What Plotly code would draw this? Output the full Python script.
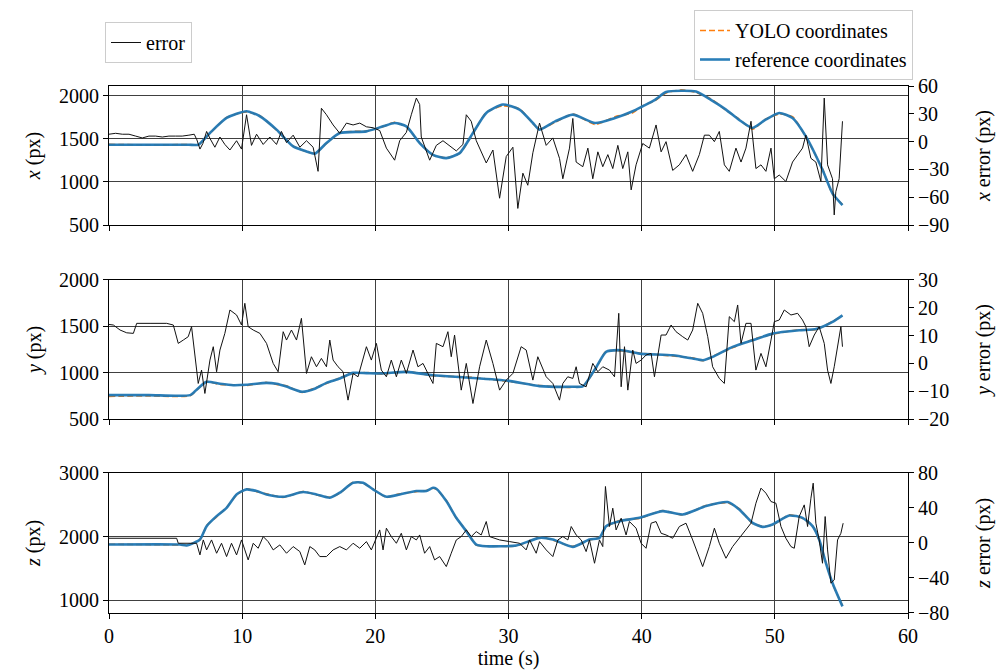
import plotly.graph_objects as go
from plotly.subplots import make_subplots

# ---------------- data ----------------
# reference / YOLO coordinates
rx_t = [0, 3.0, 6.0, 6.7, 7.58, 8.83, 10.33, 11.33, 12.58, 13.83,
        14.83, 15.45, 16.33, 17.33, 19.33, 20.58, 21.45, 22.33, 23.33, 24.33,
        25.33, 26.33, 27.33, 28.33, 29.58, 30.83, 31.83, 32.33, 33.5, 34.83,
        36.5, 38.0, 39.33, 40.08, 41.0, 41.83, 43.0, 44.08, 45.2, 46.33,
        47.3, 48.33, 49.3, 50.33, 51.33, 52.33, 53.58, 54.33, 55.08]
ref_x = [1430, 1430, 1430, 1430, 1566, 1740, 1818, 1760, 1605, 1411,
         1353, 1326, 1450, 1566, 1585, 1643, 1682, 1643, 1450, 1314,
         1275, 1333, 1566, 1798, 1895, 1837, 1682, 1605, 1700, 1779,
         1682, 1740, 1818, 1876, 1950, 2040, 2055, 2045, 1950, 1837,
         1720, 1624, 1720, 1798, 1740, 1527, 1140, 868, 732]
yolo_x = [1435, 1428, 1432, 1430, 1560, 1745, 1810, 1765, 1600, 1415,
          1350, 1330, 1445, 1570, 1590, 1640, 1690, 1635, 1455, 1310,
          1280, 1330, 1560, 1805, 1880, 1845, 1675, 1610, 1690, 1785,
          1665, 1755, 1800, 1880, 1940, 2030, 2065, 2035, 1960, 1830,
          1730, 1610, 1725, 1785, 1755, 1520, 1150, 860, 740]

ry_t = [0, 3.0, 6.1, 6.6, 7.33, 8.33, 9.33, 10.33, 11.83, 12.58,
        13.33, 14.5, 15.5, 16.33, 17.33, 18.33, 19.33, 20.5, 22.33, 24.33,
        26.83, 30.0, 32.33, 34.83, 35.6, 36.6, 37.33, 38.5, 39.83, 42.33,
        43.83, 44.6, 45.33, 46.83, 48.33, 49.83, 51.83, 53.1, 54.33, 55.08]
ref_y = [758, 758, 758, 820, 901, 880, 865, 870, 890, 880,
         850, 794, 830, 890, 937, 998, 995, 991, 1009, 973,
         948, 912, 855, 848, 855, 1062, 1224, 1242, 1206, 1188,
         1153, 1134, 1170, 1278, 1350, 1421, 1457, 1470, 1547, 1618]
yolo_y = [745, 750, 752, 815, 905, 872, 870, 862, 895, 874,
          858, 788, 838, 884, 945, 990, 1002, 985, 1015, 966,
          955, 905, 862, 842, 860, 1050, 1230, 1235, 1212, 1180,
          1160, 1128, 1176, 1270, 1358, 1414, 1463, 1465, 1553, 1612]

rz_t = [0, 5.33, 5.83, 6.83, 7.33, 8.08, 8.83, 9.58, 10.33, 11.08,
        11.83, 13.08, 14.58, 15.58, 16.58, 17.33, 18.33, 19.08, 19.83, 20.83,
        21.83, 23.08, 23.83, 24.33, 24.58, 25.33, 26.08, 26.83, 27.58, 28.33,
        30.58, 32.33, 33.33, 34.83, 36.08, 36.83, 37.33, 38.33, 39.83, 41.58,
        43.08, 44.83, 46.46, 47.33, 48.33, 49.08, 49.83, 51.08, 52.08, 52.83,
        53.33, 53.83, 54.33, 55.08]
ref_z = [1874, 1874, 1860, 1953, 2163, 2320, 2451, 2661, 2740, 2714,
         2661, 2624, 2698, 2661, 2609, 2688, 2845, 2845, 2740, 2624,
         2661, 2714, 2714, 2766, 2750, 2556, 2294, 2084, 1874, 1848,
         1860, 1979, 1953, 1838, 1953, 1979, 2163, 2241, 2294, 2399,
         2346, 2478, 2541, 2425, 2215, 2152, 2189, 2330, 2294, 2163,
         1953, 1586, 1271, 904]
yolo_z = [1880, 1868, 1865, 1945, 2170, 2310, 2460, 2650, 2748, 2705,
          2670, 2615, 2705, 2652, 2618, 2680, 2855, 2835, 2748, 2615,
          2670, 2705, 2722, 2758, 2742, 2565, 2285, 2095, 1866, 1855,
          1852, 1987, 1945, 1846, 1945, 1988, 2150, 2250, 2285, 2408,
          2338, 2486, 2530, 2436, 2205, 2160, 2180, 2340, 2285, 2172,
          1940, 1600, 1260, 915]

# errors
ex_t = [0, 0.5, 1.0, 1.5, 2.0, 2.5, 3.0, 3.5, 4.0, 4.5,
        5.0, 5.5, 6.0, 6.4, 6.6, 6.83, 7.05, 7.33, 7.6, 7.95,
        8.33, 8.7, 9.08, 9.58, 9.95, 10.33, 10.7, 11.08, 11.58, 12.08,
        12.58, 12.95, 13.33, 13.83, 14.33, 14.83, 15.33, 15.7, 15.95, 16.33,
        16.83, 17.33, 17.83, 18.33, 18.83, 19.33, 19.83, 20.33, 20.83, 21.45,
        21.83, 22.33, 22.7, 23.08, 23.33, 23.45, 24.08, 24.58, 25.08, 25.58,
        26.08, 26.58, 26.83, 27.2, 27.58, 28.33, 28.83, 29.33, 29.83, 30.33,
        30.7, 31.08, 31.45, 31.83, 32.33, 32.83, 33.33, 33.83, 34.08, 34.58,
        34.83, 35.08, 35.58, 35.96, 36.33, 36.71, 37.08, 37.46, 37.83, 38.21,
        38.58, 38.96, 39.21, 39.58, 40.08, 40.58, 41.08, 41.46, 41.83, 42.33,
        42.83, 43.33, 43.83, 44.33, 44.71, 45.08, 45.46, 45.83, 46.21, 46.58,
        47.08, 47.46, 47.83, 48.21, 48.58, 48.96, 49.33, 49.71, 49.96, 50.33,
        50.83, 51.33, 51.71, 52.08, 52.33, 52.71, 53.08, 53.46, 53.71, 53.96,
        54.33, 54.46, 54.58, 54.83, 55.08]
err_x = [8, 9, 8, 8, 6, 4, 6, 6, 5, 6,
         6, 6, 7, 8, 2, -8, -2, 11, 3, -6,
         5, -3, -9, 1, -8, 29, -4, 8, -3, 5,
         -3, 11, -1, 7, -6, 1, -6, -32, 36, 29,
         18, 9, 20, 18, 20, 16, 15, 12, -7, -20,
         1, 10, 29, 47, 40, 5, -20, -4, 1, -5,
         -10, -3, 29, 22, 1, -23, -9, -61, -16, -6,
         -72, -34, -47, -12, 20, -4, 4, -18, -40, -7,
         25, -22, -27, -7, -40, -11, -27, -14, -29, -4,
         -29, -11, -52, -25, -2, -7, 18, -11, 0, -31,
         -25, -14, -32, -14, 7, 7, 0, 11, -25, -32,
         -7, -22, -7, 22, -29, -25, -32, -7, -40, -36,
         -43, -22, -14, -7, 7, -18, -22, -43, 47, -25,
         -40, -79, -54, -40, 22]

ey_t = [0, 0.33, 0.83, 1.33, 1.83, 2.08, 3.08, 4.33, 4.83, 5.2,
        5.58, 5.95, 6.2, 6.45, 6.7, 6.95, 7.2, 7.58, 7.83, 8.08,
        8.33, 8.7, 9.08, 9.58, 9.95, 10.2, 10.45, 10.83, 11.33, 11.83,
        12.33, 12.7, 13.08, 13.33, 13.7, 14.08, 14.45, 14.83, 15.2, 15.58,
        15.95, 16.33, 16.58, 16.83, 17.2, 17.58, 17.95, 18.33, 18.7, 19.33,
        19.7, 20.08, 20.45, 20.83, 21.2, 21.58, 21.95, 22.33, 22.83, 23.2,
        23.58, 23.95, 24.33, 24.58, 25.08, 25.45, 25.7, 25.95, 26.45, 26.83,
        27.33, 27.83, 28.33, 28.83, 29.33, 29.83, 30.33, 30.95, 31.33, 31.83,
        32.2, 32.83, 33.33, 33.83, 34.08, 34.45, 34.83, 35.08, 35.33, 35.83,
        36.33, 36.71, 37.08, 37.58, 37.96, 38.28, 38.46, 38.71, 38.96, 39.33,
        39.58, 39.96, 40.33, 40.71, 40.96, 41.46, 41.83, 42.21, 42.58, 43.08,
        43.46, 43.83, 44.21, 44.58, 44.96, 45.33, 45.83, 46.21, 46.58, 46.96,
        47.21, 47.46, 47.83, 48.21, 48.58, 48.96, 49.33, 49.71, 49.96, 50.33,
        50.71, 51.21, 51.71, 52.08, 52.33, 52.58, 52.96, 53.33, 53.71, 53.96,
        54.21, 54.46, 54.71, 54.96, 55.08]
err_y = [14, 13.8, 12.0, 11.0, 10.8, 14.4, 14.4, 14.4, 13.8, 7.2,
         8.4, 9.6, 13.2, 3.6, -7.2, -2.4, -10.8, 1.2, 6.0, -3.0,
         4.8, 10.8, 19.2, 17.4, 13.8, 21.6, 13.2, 12.0, 10.8, 7.2,
         0, -3.0, 11.4, 8.4, 12.0, 8.4, 16.2, -3.6, 2.4, -1.2,
         1.8, -1.2, 8.4, 1.2, -1.2, -3.0, -13.2, -3.6, -4.8, 6.0,
         1.2, 7.2, -2.4, -4.8, 1.2, -4.8, 1.2, -3.6, 4.8, -1.2,
         0, -3.6, -7.2, 7.2, 6.0, 11.4, 2.4, 10.2, -9.6, 0,
         -14.4, -1.2, 8.4, 0, -9.6, -6.0, -3.6, 6.0, 4.8, -6.0,
         2.4, -4.8, -7.2, -13.2, -7.2, -4.8, -5.4, -1.2, -7.2, -8.4,
         0, -3.0, -1.2, -2.4, -4.8, 18.0, -8.4, 6.0, -9.6, 4.8,
         0, 1.2, 3.0, 3.6, -4.8, 10.2, 10.2, 13.8, 11.4, 9.6,
         8.4, 12.0, 21.6, 18.0, 9.6, -1.2, -5.4, -7.2, 16.8, 15.0,
         21.0, 7.2, 14.4, 14.4, -2.4, 3.6, -1.2, 8.4, 15.0, 15.6,
         19.2, 17.4, 18.0, 15.6, 13.2, 6.0, 10.2, 13.2, 7.2, -2.4,
         -7.2, -1.2, 6.0, 13.2, 6.0]

ez_t = [0, 0.33, 5.08, 5.2, 6.58, 6.83, 7.08, 7.33, 7.7, 8.08,
        8.45, 8.83, 9.2, 9.58, 9.95, 10.2, 10.45, 10.83, 11.2, 11.58,
        11.95, 12.33, 12.83, 13.33, 13.83, 14.33, 14.7, 15.08, 15.45, 15.83,
        16.33, 16.83, 17.33, 17.83, 18.33, 18.83, 19.33, 19.7, 20.08, 20.33,
        20.58, 20.83, 21.2, 21.58, 21.95, 22.33, 22.7, 23.08, 23.33, 23.7,
        24.08, 24.45, 24.83, 25.33, 25.7, 26.08, 26.45, 26.83, 27.2, 27.58,
        27.95, 28.33, 28.58, 29.33, 30.08, 30.83, 31.33, 31.58, 32.08, 32.33,
        32.83, 33.33, 33.71, 34.08, 34.46, 34.71, 35.08, 35.46, 35.83, 36.08,
        36.46, 36.83, 37.08, 37.28, 37.58, 37.83, 38.08, 38.46, 38.83, 39.08,
        39.58, 39.96, 40.33, 40.71, 41.08, 41.46, 41.83, 42.33, 42.83, 43.33,
        43.83, 44.21, 44.58, 45.08, 45.46, 45.83, 46.33, 46.83, 47.33, 47.83,
        48.21, 48.58, 48.96, 49.33, 49.71, 50.08, 50.46, 50.83, 51.21, 51.46,
        51.83, 52.21, 52.46, 52.71, 52.88, 53.08, 53.33, 53.58, 53.78, 53.96,
        54.21, 54.46, 54.71, 54.96, 55.13]
err_z = [5.3, 5.3, 5.3, -0.4, -0.4, -13.7, 3.4, -8.0, 3.4, -11.8,
         -0.4, -15.6, -0.4, -13.7, 3.4, -8.0, -19.4, -0.4, -6.1, 7.2,
         1.5, -8.0, -2.3, -11.8, -4.2, -9.9, -25.1, -4.2, -8.0, -15.6,
         -15.6, -8.0, -4.2, -8.0, -0.4, -6.1, 1.5, -8.0, 7.2, 14.8,
         -8.0, 16.8, 7.2, -0.4, 11.0, -8.0, 7.2, 3.4, 9.1, -11.8,
         -4.2, -19.4, -15.6, -27.0, -11.8, 3.4, 7.2, 14.8, 7.2, 12.9,
         9.1, 24.4, 7.2, 3.4, 1.5, -0.4, -8.0, 3.4, -11.8, 1.5,
         -8.0, -15.6, 3.4, 7.2, 3.4, 18.7, 9.1, 3.4, -9.9, 3.4,
         -23.2, 3.4, -4.2, 64.4, 18.7, 39.6, 14.8, 28.2, 9.1, 24.4,
         16.8, -0.4, -6.1, 22.5, 24.4, 11.0, 9.1, 5.3, 18.7, 22.5,
         3.4, -11.8, -27.0, -4.2, 16.8, -0.4, -17.5, -4.2, 5.3, 14.8,
         22.5, 45.3, 62.5, 56.8, 47.2, 45.3, 18.7, 5.3, -4.2, -6.1,
         30.1, 43.4, 18.7, 51.0, 68.2, 22.5, 3.4, -23.2, 30.1, -8.0,
         -46.0, -42.3, 3.4, 11.0, 22.5]

# axis settings
x_ticks = [0, 10, 20, 30, 40, 50, 60]
left_ranges = [[500, 2110], [500, 2000], [800, 3000]]
left_ticks = [[500, 1000, 1500, 2000], [500, 1000, 1500, 2000], [1000, 2000, 3000]]
right_ranges = [[-90, 60], [-20, 30], [-80, 80]]
right_ticks = [[-90, -60, -30, 0, 30, 60], [-20, -10, 0, 10, 20, 30], [-80, -40, 0, 40, 80]]
left_titles = ["<i>x</i> (px)", "<i>y</i> (px)", "<i>z</i> (px)"]
right_titles = ["<i>x</i> error (px)", "<i>y</i> error (px)", "<i>z</i> error (px)"]

# ---------------- figure ----------------
FONT = "Liberation Serif, Times New Roman, serif"
BLUE = "#1f77b4"
ORANGE = "#ff7f0e"
W, H = 1007, 672
ML, MR, MT, MB = 109, 99, 86, 59
PW, PH = W - ML - MR, H - MT - MB

fig = make_subplots(rows=3, cols=1, specs=[[{"secondary_y": True}]] * 3)

coords = [(rx_t, ref_x, yolo_x), (ry_t, ref_y, yolo_y), (rz_t, ref_z, yolo_z)]
errs = [(ex_t, err_x), (ey_t, err_y), (ez_t, err_z)]

for i in range(3):
    row = i + 1
    t, ref, yolo = coords[i]
    fig.add_trace(go.Scatter(x=t, y=yolo, mode="lines", name="YOLO coordinates",
                             line=dict(color=ORANGE, width=1.6, dash="6px,3px",
                                       shape="spline", smoothing=0.6),
                             showlegend=(i == 0), legend="legend"),
                  row=row, col=1, secondary_y=False)
    fig.add_trace(go.Scatter(x=t, y=ref, mode="lines", name="reference coordinates",
                             line=dict(color=BLUE, width=2.6, shape="spline", smoothing=0.6),
                             opacity=0.95,
                             showlegend=(i == 0), legend="legend"),
                  row=row, col=1, secondary_y=False)
    et, ev = errs[i]
    fig.add_trace(go.Scatter(x=et, y=ev, mode="lines", name="error",
                             line=dict(color="#111111", width=1),
                             showlegend=(i == 0), legend="legend2"),
                  row=row, col=1, secondary_y=True)

# domains (pixel layout: plot area x 109..908, rows at y 86-225, 280-419, 473-613)
domains = [[0.736, 1.0], [0.368, 0.632], [0.0, 0.266]]
axis_common = dict(showline=True, linecolor="black", linewidth=1, ticks="outside",
                   ticklen=5, tickcolor="black", zeroline=False,
                   tickfont=dict(family=FONT, size=20, color="black"))
for i in range(3):
    xname = "xaxis" if i == 0 else f"xaxis{i + 1}"
    yl = "yaxis" if i == 0 else f"yaxis{2 * i + 1}"
    yr = f"yaxis{2 * i + 2}"
    fig.update_layout({
        xname: dict(domain=[0, 1], range=[0, 60], tickvals=x_ticks, showgrid=True,
                    gridcolor="#404040", gridwidth=0.8, mirror=True,
                    showticklabels=(i == 2),
                    title=dict(text="time (s)" if i == 2 else "",
                               font=dict(family=FONT, size=20, color="black"), standoff=2),
                    automargin=False, **axis_common),
        yl: dict(domain=domains[i], range=left_ranges[i], tickvals=left_ticks[i],
                 showgrid=True, gridcolor="#404040", gridwidth=0.8,
                 title=dict(text=left_titles[i], font=dict(family=FONT, size=20, color="black"),
                            standoff=12),
                 automargin=False, **axis_common),
        yr: dict(range=right_ranges[i], tickvals=right_ticks[i], showgrid=False,
                 title=dict(text=right_titles[i], font=dict(family=FONT, size=20, color="black"),
                            standoff=27),
                 automargin=False, **axis_common),
    })

fig.update_layout(
    width=W, height=H,
    margin=dict(l=ML, r=MR, t=MT, b=MB, autoexpand=False),
    paper_bgcolor="white", plot_bgcolor="white",
    font=dict(family=FONT, size=20, color="black"),
    legend=dict(x=(913 - ML) / PW, y=(H - MB - 10) / PH, xanchor="right", yanchor="top",
                bgcolor="rgba(255,255,255,0.9)", bordercolor="#cccccc", borderwidth=1,
                font=dict(family=FONT, size=20, color="black"), tracegroupgap=0),
    legend2=dict(x=(105 - ML) / PW, y=(H - MB - 22) / PH, xanchor="left", yanchor="top",
                 bgcolor="rgba(255,255,255,0.9)", bordercolor="#cccccc", borderwidth=1,
                 font=dict(family=FONT, size=20, color="black")),
    showlegend=True,
)

fig.write_html("out.html", config={"displayModeBar": False},
               post_script="document.body.style.margin='0';document.body.style.overflow='hidden';")
